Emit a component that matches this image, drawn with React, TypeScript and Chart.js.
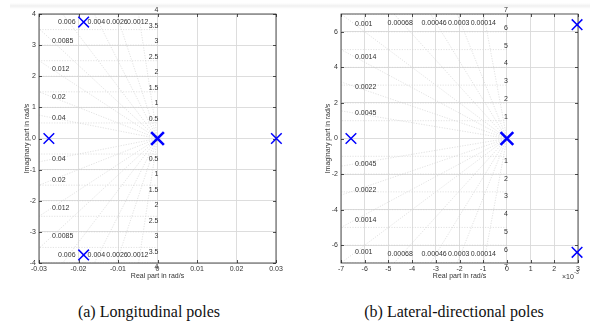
import { useEffect, useRef } from "react";
import { Chart, registerables } from "chart.js";

Chart.register(...registerables);

// Longitudinal poles (real part in rad/s, imaginary part in rad/s)
const lonPoleRe = [-0.0275, -0.0187, -0.0187, 0.0301];
const lonPoleIm = [0, 3.74, -3.74, 0];
const lonOriginRe = [0];
const lonOriginIm = [0];
const lonZeta = [0.04, 0.02, 0.012, 0.0085, 0.006, 0.004, 0.0026, 0.0012];
const lonZetaLabels = ["0.04", "0.02", "0.012", "0.0085", "0.006", "0.004", "0.0026", "0.0012"];
const lonWn = [0.5, 1, 1.5, 2, 2.5, 3, 3.5, 4];
const lonWnLabels = ["0.5", "1", "1.5", "2", "2.5", "3", "3.5", "4"];
const lonXTicks = [-0.03, -0.02, -0.01, 0, 0.01, 0.02, 0.03];
const lonXTickLabels = ["-0.03", "-0.02", "-0.01", "0", "0.01", "0.02", "0.03"];
const lonYTicks = [-4, -3, -2, -1, 0, 1, 2, 3, 4];

// Lateral-directional poles
const latPoleRe = [-0.00658, 0.00296, 0.00296];
const latPoleIm = [0, 6.4, -6.4];
const latOriginRe = [0];
const latOriginIm = [0];
const latZeta = [0.0045, 0.0022, 0.0014, 0.001, 0.00068, 0.00046, 0.0003, 0.00014];
const latZetaLabels = ["0.0045", "0.0022", "0.0014", "0.001", "0.00068", "0.00046", "0.0003", "0.00014"];
const latWn = [1, 2, 3, 4, 5, 6, 7];
const latWnLabels = ["1", "2", "3", "4", "5", "6", "7"];
const latXTicks = [-0.007, -0.006, -0.005, -0.004, -0.003, -0.002, -0.001, 0, 0.001, 0.002, 0.003];
const latXTickLabels = ["-7", "-6", "-5", "-4", "-3", "-2", "-1", "0", "1", "2", "3"];
const latYTicks = [-6, -4, -2, 0, 2, 4, 6];

const SANS = '"Liberation Sans", Arial, Helvetica, sans-serif';
const TEXT = "#333333";

type PanelSpec = {
  re: number[];
  im: number[];
  originRe: number[];
  originIm: number[];
  zeta: number[];
  zetaLabels: string[];
  wn: number[];
  wnLabels: string[];
  xTicks: number[];
  xTickLabels: string[];
  yTicks: number[];
  xMin: number;
  xMax: number;
  yMax: number;
  padLeft: number;
  yAxisWidth: number;
  padRight: number;
  yTitlePad: number;
  colOffset: number;
  rowOffset: number;
  exponent?: boolean;
};

function sgridPlugin(spec: PanelSpec) {
  return {
    id: "sgrid",
    beforeDatasetsDraw(chart: any) {
      const { ctx, chartArea: a } = chart;
      const xs = chart.scales.x;
      const ys = chart.scales.y;
      const px = (v: number) => xs.getPixelForValue(v);
      const py = (v: number) => ys.getPixelForValue(v);

      // damping rays and natural-frequency arcs
      ctx.save();
      ctx.beginPath();
      ctx.rect(a.left, a.top, a.right - a.left, a.bottom - a.top);
      ctx.clip();
      ctx.strokeStyle = "#cfcfcf";
      ctx.lineWidth = 0.6;
      ctx.setLineDash([1.2, 1.4]);
      const R = spec.yMax * 4;
      for (const z of spec.zeta) {
        const s = Math.sqrt(1 - z * z);
        for (const sign of [1, -1]) {
          ctx.beginPath();
          ctx.moveTo(px(0), py(0));
          ctx.lineTo(px(-R * z), py(sign * R * s));
          ctx.stroke();
        }
      }
      for (const w of spec.wn) {
        for (const sign of [1, -1]) {
          ctx.beginPath();
          const n = 600;
          for (let i = 0; i <= n; i++) {
            const t = (i / n) * (Math.PI / 2);
            const xx = -w * Math.cos(t);
            const yy = sign * w * Math.sin(t);
            if (i === 0) ctx.moveTo(px(xx), py(yy));
            else ctx.lineTo(px(xx), py(yy));
          }
          ctx.stroke();
        }
      }
      ctx.restore();

      // labels
      ctx.save();
      ctx.font = `7px ${SANS}`;
      ctx.fillStyle = TEXT;
      spec.zeta.forEach((z, i) => {
        const s = Math.sqrt(1 - z * z);
        const yAtLeft = (-spec.xMin * s) / z;
        const label = spec.zetaLabels[i];
        if (yAtLeft < spec.yMax) {
          const tx = a.left + spec.colOffset;
          const xv = xs.getValueForPixel(tx);
          const yv = (-xv * s) / z;
          ctx.textAlign = "left";
          ctx.textBaseline = "middle";
          ctx.fillText(label, tx, py(yv));
          ctx.fillText(label, tx, py(-yv));
        } else {
          const tyTop = a.top + spec.rowOffset;
          const yv = ys.getValueForPixel(tyTop);
          const xv = (-yv * z) / s;
          ctx.textAlign = "center";
          ctx.textBaseline = "middle";
          ctx.fillText(label, px(xv) - 2, tyTop);
          ctx.fillText(label, px(xv) - 2, a.bottom - spec.rowOffset);
        }
      });
      spec.wn.forEach((w, i) => {
        const label = spec.wnLabels[i];
        ctx.textAlign = "right";
        ctx.textBaseline = "bottom";
        ctx.fillText(label, px(0) + 1, py(w) - 0.5);
        ctx.textBaseline = "top";
        ctx.fillText(label, px(0) + 1, py(-w) + 1);
      });
      ctx.restore();

      // axes box with inward tick marks
      ctx.save();
      ctx.strokeStyle = "#262626";
      ctx.lineWidth = 0.8;
      ctx.strokeRect(a.left, a.top, a.right - a.left, a.bottom - a.top);
      ctx.beginPath();
      const tl = 3;
      for (const v of spec.xTicks) {
        const x = Math.round(px(v)) + 0.5;
        ctx.moveTo(x, a.top);
        ctx.lineTo(x, a.top + tl);
        ctx.moveTo(x, a.bottom);
        ctx.lineTo(x, a.bottom - tl);
      }
      for (const v of spec.yTicks) {
        const y = Math.round(py(v)) + 0.5;
        ctx.moveTo(a.left, y);
        ctx.lineTo(a.left + tl, y);
        ctx.moveTo(a.right, y);
        ctx.lineTo(a.right - tl, y);
      }
      ctx.stroke();
      ctx.restore();
    },
    afterDraw(chart: any) {
      if (!spec.exponent) return;
      const { ctx, chartArea: a } = chart;
      ctx.save();
      ctx.fillStyle = TEXT;
      ctx.textBaseline = "middle";
      ctx.textAlign = "left";
      ctx.font = `7px ${SANS}`;
      const x0 = a.right - 16;
      ctx.fillText("\u00d710", x0, a.bottom + 14);
      const w = ctx.measureText("\u00d710").width;
      ctx.font = `5px ${SANS}`;
      ctx.fillText("-3", x0 + w + 0.5, a.bottom + 10);
      ctx.restore();
    },
  };
}

function PolePanel({ spec }: { spec: PanelSpec }) {
  const ref = useRef<HTMLCanvasElement | null>(null);
  useEffect(() => {
    if (!ref.current) return;
    const toPts = (xs: number[], ys: number[]) => xs.map((x, i) => ({ x, y: ys[i] }));
    const chart = new Chart(ref.current, {
      type: "scatter",
      data: {
        datasets: [
          {
            data: toPts(spec.re, spec.im),
            pointStyle: "crossRot",
            pointRadius: 7.5,
            pointBorderWidth: 1.5,
            borderColor: "#0000ff",
            backgroundColor: "#0000ff",
            clip: false,
          } as any,
          {
            data: toPts(spec.originRe, spec.originIm),
            pointStyle: "crossRot",
            pointRadius: 9,
            pointBorderWidth: 2.6,
            borderColor: "#0000ff",
            backgroundColor: "#0000ff",
            clip: false,
          } as any,
        ],
      },
      options: {
        animation: false,
        responsive: false,
        events: [],
        layout: { padding: { left: spec.padLeft, right: spec.padRight, top: 14, bottom: 0 } },
        plugins: { legend: { display: false }, tooltip: { enabled: false } },
        scales: {
          x: {
            type: "linear",
            min: spec.xMin,
            max: spec.xMax,
            afterBuildTicks: (s: any) => {
              s.ticks = spec.xTicks.map((v) => ({ value: v }));
            },
            afterFit: (s: any) => {
              s.height = 27;
            },
            ticks: {
              autoSkip: false,
              maxRotation: 0,
              padding: 2,
              color: TEXT,
              font: { family: SANS, size: 7 },
              callback: (_v: any, i: number) => spec.xTickLabels[i],
            },
            grid: { color: "#d9d9d9", lineWidth: 0.9, drawTicks: false },
            border: { display: false },
            title: {
              display: true,
              text: "Real part in rad/s",
              color: TEXT,
              font: { family: SANS, size: 7 },
              padding: { top: 0, bottom: 10 },
            },
          },
          y: {
            type: "linear",
            min: -spec.yMax,
            max: spec.yMax,
            afterBuildTicks: (s: any) => {
              s.ticks = spec.yTicks.map((v) => ({ value: v }));
            },
            afterFit: (s: any) => {
              s.width = spec.yAxisWidth;
            },
            ticks: {
              autoSkip: false,
              padding: 3,
              color: TEXT,
              font: { family: SANS, size: 7 },
              callback: (v: any) => String(v),
            },
            grid: { color: "#d9d9d9", lineWidth: 0.9, drawTicks: false },
            border: { display: false },
            title: {
              display: true,
              text: "Imaginary part in rad/s",
              color: TEXT,
              font: { family: SANS, size: 7 },
              padding: { top: spec.yTitlePad, bottom: 0 },
            },
          },
        },
      } as any,
      plugins: [sgridPlugin(spec)],
    });
    return () => chart.destroy();
  }, [spec]);
  return <canvas ref={ref} width={295} height={290} style={{ display: "block" }} />;
}

const lonSpec: PanelSpec = {
  re: lonPoleRe,
  im: lonPoleIm,
  originRe: lonOriginRe,
  originIm: lonOriginIm,
  zeta: lonZeta,
  zetaLabels: lonZetaLabels,
  wn: lonWn,
  wnLabels: lonWnLabels,
  xTicks: lonXTicks,
  xTickLabels: lonXTickLabels,
  yTicks: lonYTicks,
  xMin: -0.03,
  xMax: 0.03,
  yMax: 4,
  padLeft: 0,
  yAxisWidth: 39,
  padRight: 19,
  yTitlePad: 23,
  colOffset: 13,
  rowOffset: 8,
};

const latSpec: PanelSpec = {
  re: latPoleRe,
  im: latPoleIm,
  originRe: latOriginRe,
  originIm: latOriginIm,
  zeta: latZeta,
  zetaLabels: latZetaLabels,
  wn: latWn,
  wnLabels: latWnLabels,
  xTicks: latXTicks,
  xTickLabels: latXTickLabels,
  yTicks: latYTicks,
  xMin: -0.007,
  xMax: 0.003,
  yMax: 7,
  padLeft: 0,
  yAxisWidth: 46,
  padRight: 12,
  yTitlePad: 29,
  colOffset: 14,
  rowOffset: 9,
  exponent: true,
};

const captionStyle: React.CSSProperties = {
  position: "absolute",
  top: 302,
  fontFamily: '"Liberation Serif", "DejaVu Serif", serif',
  fontSize: 16,
  color: "#111",
  whiteSpace: "nowrap",
  transform: "translateX(-50%)",
  lineHeight: "20px",
};

export default function App() {
  return (
    <div
      style={{
        position: "absolute",
        left: 0,
        top: 0,
        width: 590,
        height: 326,
        background: "#fff",
        overflow: "hidden",
      }}
    >
      <div
        style={{
          position: "absolute",
          left: 10,
          top: 3,
          width: 580,
          height: 6,
          background: "linear-gradient(to bottom, rgba(0,0,0,0), rgba(0,0,0,0.06), rgba(0,0,0,0))",
        }}
      />
      <div style={{ position: "absolute", left: 0, top: 0 }}>
        <PolePanel spec={lonSpec} />
      </div>
      <div style={{ position: "absolute", left: 295, top: 0 }}>
        <PolePanel spec={latSpec} />
      </div>
      <div style={{ ...captionStyle, left: 149 }}>(a) Longitudinal poles</div>
      <div style={{ ...captionStyle, left: 454 }}>(b) Lateral-directional poles</div>
    </div>
  );
}
